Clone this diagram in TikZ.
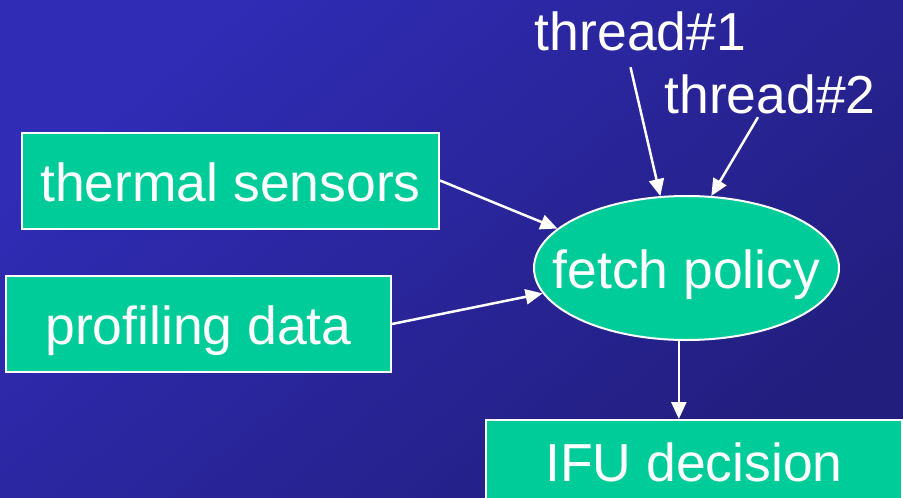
\documentclass[tikz,border=0pt]{standalone}
\usepackage{fontspec}
\setmainfont{Liberation Sans}
\usetikzlibrary{shapes.geometric,arrows.meta}

\definecolor{slideblue}{RGB}{48,44,182}
\definecolor{slidenavy}{RGB}{34,30,126}
\definecolor{boxgreen}{RGB}{0,204,153}

\begin{document}
\begin{tikzpicture}[x=1pt, y=-1pt,
    every node/.style={text=white, font=\fontsize{53.5}{60}\selectfont, text height=41pt, text depth=0pt},
    box/.style={draw=white, line width=2pt, fill=boxgreen, minimum height=96pt, inner sep=0pt},
    link/.style={-{Triangle[length=17pt, width=15pt]}, white, line width=2.5pt}]
  \useasboundingbox (0,0) rectangle (903,498);
  \clip (0,0) rectangle (903,498);
  % background
  \shade[top color=slideblue, bottom color=slidenavy, shading angle=40] (0,0) rectangle (903,498);

  % inputs
  \node[box, minimum width=417pt] (thermal) at (230.5,180.5) {thermal sensors};
  \node[box, minimum width=385pt] (profiling) at (198.5,324) {profiling data};
  \node[inner sep=0pt] (t1) at (640.5,29.5) {thread\#1};
  \node[inner sep=0pt] (t2) at (770,92.5) {thread\#2};

  % policy and result
  \node[draw=white, line width=2pt, fill=boxgreen, ellipse, minimum width=305pt, minimum height=144pt,
        inner sep=0pt, label={center:fetch policy}] (fetch) at (686.5,268) {};
  \node[box, minimum width=416pt, anchor=north, text height=26pt] (ifu) at (694,419) {IFU decision};

  \draw[link] (thermal.east) -- (fetch.163);
  \draw[link] (profiling.east) -- (fetch.190);
  \draw[link] ([shift={(-10,17)}]t1.south) -- (fetch.110);
  \draw[link] ([shift={(-12,4)}]t2.south) -- (fetch.71);
  \draw[link] (fetch.264) -- (fetch.264 |- ifu.north);
\end{tikzpicture}
\end{document}
